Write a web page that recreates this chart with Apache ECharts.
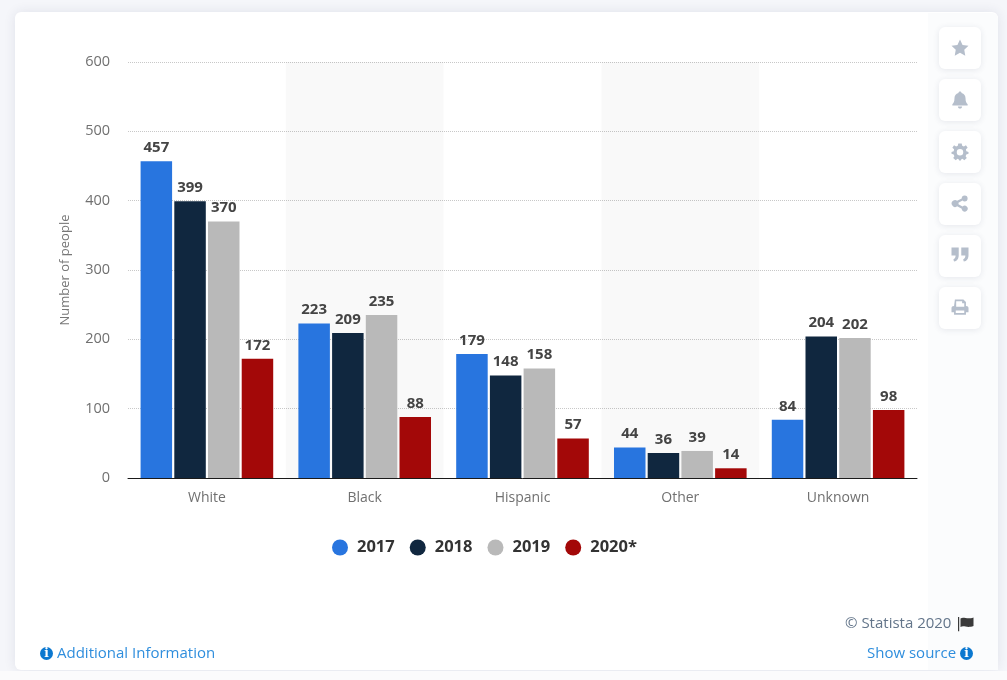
<!DOCTYPE html>
<html><head><meta charset="utf-8">
<style>html,body{margin:0;padding:0;background:#f5f6fa;}#c{width:1007px;height:680px;}</style>
<script src="https://cdn.jsdelivr.net/npm/echarts@6/dist/echarts.min.js"></script>
</head><body><div id="c"></div>
<script>
const categories = ['White','Black','Hispanic','Other','Unknown'];
const years = ['2017','2018','2019','2020*'];
const v2017 = [457,223,179,44,84];
const v2018 = [399,209,148,36,204];
const v2019 = [370,235,158,39,202];
const v2020 = [172,88,57,14,98];
const colors = ['#2875df','#10273f','#b9b9b9','#a30808'];
const allValues = [v2017,v2018,v2019,v2020];
const iconColor = '#b5becb';
const iconPaths = [
 'M10 0L13 6.5L20 7.4L15 12.2L16.2 19L10 15.7L3.8 19L5 12.2L0 7.4L7 6.5Z',
 'M10 0C11 0 11.8.7 11.8 1.7C15 2.5 16.5 5 16.5 8C16.5 12 17.5 13.5 19 15L19 16.5L1 16.5L1 15C2.5 13.5 3.5 12 3.5 8C3.5 5 5 2.5 8.2 1.7C8.2.7 9 0 10 0ZM7.5 17.5L12.5 17.5C12.5 19 11.4 20 10 20C8.6 20 7.5 19 7.5 17.5Z',
 'M8 0L12 0L12.6 2.6L14.6 3.4L17 2L19 5L17 6.8L17.4 9L20 10L20 12L17.4 12.8L16.6 15L18 17L15 19.6L13 18L11.6 18.4L11 20L9 20L8.4 18.4L7 18L5 19.6L2 17L3.4 15L2.6 12.8L0 12L0 10L2.6 9L3 6.8L1 5L3 2L5.4 3.4L7.4 2.6ZM10 6.5A3.8 3.8 0 1 0 10 14.1A3.8 3.8 0 1 0 10 6.5Z',
 'M15.5 0A3.5 3.5 0 1 1 13 6L8.2 8.6C8.3 9.2 8.3 9.8 8.2 10.4L13 13A3.5 3.5 0 1 1 12 15.5L6.6 12.7A4 4 0 1 1 6.6 6.3L12 3.5A3.5 3.5 0 0 1 15.5 0Z',
 'M0 0L8.5 0L8.5 9C8.5 13 6.5 16 3 16.5L2.2 14C3.8 13.5 4.8 12 4.8 9.5L0 9.5ZM11.5 0L20 0L20 9C20 13 18 16 14.5 16.5L13.7 14C15.3 13.5 16.3 12 16.3 9.5L11.5 9.5Z',
 'M4 0L14 0L17 3L17 7.5C19 7.5 20 8.5 20 10L20 15L17 15L17 18L3 18L3 15L0 15L0 10C0 8.5 1 7.5 3 7.5ZM5.5 2L5.5 8.5L15 8.5L15 4.5L12.5 4.5L12.5 2ZM5 13L5 16L15 16L15 13Z'
];
const flagPath = 'M0 0L1.2 0L1.2 15L0 15ZM2.5 1.5C6 -0.5 9 3 15.5 0.5L15.5 9.5C9 12 6 8.5 2.5 10.5Z';
iconPaths.forEach((p,i)=>echarts.graphic.registerShape('icon'+i,echarts.graphic.extendPath(p,{})));
echarts.graphic.registerShape('flagIcon',echarts.graphic.extendPath(flagPath,{}));
const iconTops = [27,79,131,183,235,287];
const bg = [
  {type:'rect',z:-10,shape:{x:15,y:12,width:983,height:658,r:6},style:{fill:'#fff',shadowBlur:12,shadowColor:'rgba(40,50,90,0.10)'}},
  {type:'rect',z:-9,shape:{x:928,y:13,width:70,height:657,r:[0,6,0,0]},style:{fill:'#fbfcfd'}},
  {type:'rect',z:-8,shape:{x:0,y:671,width:1007,height:9},style:{fill:'#fbfbfc'}}
];
iconTops.forEach((t,i)=>{
  bg.push({type:'rect',z:-7,shape:{x:939,y:t,width:42,height:42,r:6},style:{fill:'#fff',shadowBlur:6,shadowColor:'rgba(40,50,90,0.10)',shadowOffsetY:1}});
  bg.push({type:'icon'+i,z:-6,x:951.5,y:t+12.5,scaleX:0.85,scaleY:0.85,style:{fill:iconColor}});
});
function info(cx,cy){return [
  {type:'circle',shape:{cx,cy,r:6.5},style:{fill:'#0b78d0'}},
  {type:'text',style:{x:cx,y:cy,text:'i',fill:'#fff',font:'bold 12px "DejaVu Serif"',align:'center',verticalAlign:'middle'}}
];}
const foot = [
  ...info(46.5,653.5),
  {type:'text',style:{x:57,y:653.5,text:'Additional Information',fill:'#2f8edd',font:'15px "Open Sans"',verticalAlign:'middle'}},
  {type:'text',style:{x:867,y:653.5,text:'Show source',fill:'#2f8edd',font:'15px "Open Sans"',verticalAlign:'middle'}},
  ...info(966.5,653.5),
  {type:'text',style:{x:845,y:623.5,text:'© Statista 2020',fill:'#63758a',font:'15px "Open Sans"',verticalAlign:'middle'}},
  {type:'flagIcon',x:958,y:617,scaleX:1,scaleY:0.95,style:{fill:'#3a3a3a'}}
];
const series = years.map((y,i)=>({
  name:y,type:'bar',data:allValues[i],barWidth:31.5,barGap:'7%',
  itemStyle:{color:colors[i],borderWidth:0},
  label:{show:true,position:'top',distance:6,color:'#444',fontFamily:'Open Sans',fontWeight:'bold',fontSize:15}
}));
const chart = echarts.init(document.getElementById('c'),null,{renderer:'canvas'});
chart.setOption({
  animation:false,
  backgroundColor:'transparent',
  grid:{left:128,right:90,top:62,bottom:202,containLabel:false},
  legend:{left:327,top:534,icon:'circle',itemWidth:16,itemHeight:16,itemGap:15,
    textStyle:{fontFamily:'Open Sans',fontWeight:'bold',fontSize:16.5,color:'#333',padding:[0,0,0,4]},data:years},
  xAxis:{type:'category',data:categories,
    axisLine:{lineStyle:{color:'#1a1a1a',width:1}},axisTick:{show:false},
    axisLabel:{color:'#707070',fontFamily:'Open Sans',fontSize:14,margin:13},
    splitArea:{show:true,areaStyle:{color:['rgba(0,0,0,0)','rgba(0,0,0,0.022)']}},splitLine:{show:false}},
  yAxis:{type:'value',min:0,max:600,interval:100,
    name:'Number of people',nameLocation:'middle',nameGap:56,nameRotate:90,
    nameTextStyle:{color:'#777',fontFamily:'Open Sans',fontSize:13},
    axisLine:{show:false},axisTick:{show:false},
    axisLabel:{color:'#707070',fontFamily:'Open Sans',fontSize:14.5,margin:18},
    splitLine:{lineStyle:{color:'#c8c8c8',type:'dotted',width:1}}},
  series,
  graphic:{elements:[...bg,...foot]}
});
</script></body></html>
